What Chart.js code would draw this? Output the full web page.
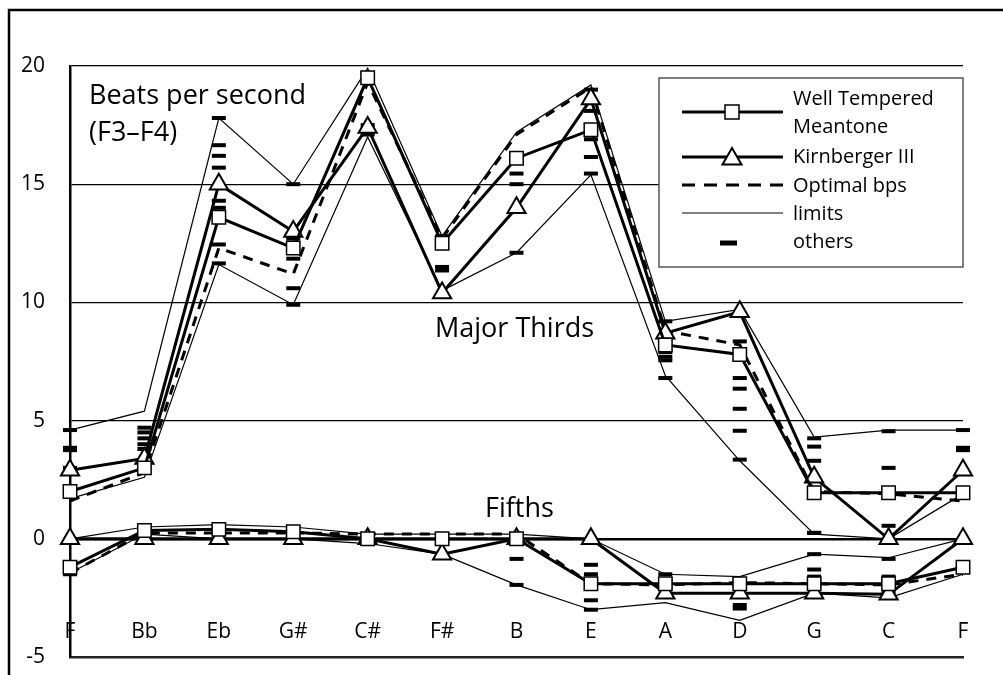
<!DOCTYPE html>
<html>
<head>
<meta charset="utf-8">
<script src="https://cdn.jsdelivr.net/npm/chart.js@4/dist/chart.umd.min.js"></script>
<style>
  html, body { margin: 0; padding: 0; background: #fff; overflow: hidden; }
  #wrap { width: 1003px; height: 675px; }
</style>
</head>
<body>
<div id="wrap"><canvas id="beats" width="1003" height="675"></canvas></div>
<script>
// notes of the circle of fifths (x positions 0..12)
const notes = ["F", "Bb", "Eb", "G#", "C#", "F#", "B", "E", "A", "D", "G", "C", "F"];

// beats per second, major thirds
const wtmThirds = [2.0, 3.0, 13.6, 12.3, 19.5, 12.5, 16.1, 17.3, 8.2, 7.8, 1.95, 1.95, 1.95];
const kirnThirds = [2.9, 3.4, 15.0, 13.0, 17.4, 10.4, 14.0, 18.6, 8.7, 9.6, 2.6, 0.0, 2.9];
const optThirds = [1.6, 2.8, 12.3, 11.2, 19.3, 12.7, 17.1, 19.1, 8.8, 8.2, 2.0, 1.9, 1.6];
const limitUpThirds = [4.6, 5.4, 17.8, 15.0, 19.9, 12.8, 17.2, 19.2, 9.2, 9.7, 4.3, 4.6, 4.6];
const limitLowThirds = [1.7, 2.6, 11.6, 9.9, 17.0, 10.5, 12.1, 15.4, 6.9, 3.3, 0.2, 0.0, 1.9];
const othersThirds = [
  [4.6, 3.85, 3.75, 3.0, 2.8],
  [4.7, 4.5, 4.25, 4.0, 3.8],
  [17.8, 16.65, 16.2, 15.7, 14.3, 14.0, 12.45, 11.65],
  [15.0, 12.7, 11.85, 10.6, 9.9],
  [19.7, 17.5, 17.3, 17.1],
  [12.8, 11.5, 11.35],
  [16.3, 15.45, 15.0, 12.1],
  [19.0, 18.1, 16.9, 16.15, 15.45],
  [9.2, 7.9, 7.7, 7.55, 6.8],
  [8.35, 6.8, 6.35, 5.5, 4.57, 3.35],
  [4.25, 3.9, 3.3, 2.1, 1.8, 0.25],
  [4.55, 3.0, 0.55],
  [4.6, 3.85, 3.75]
];

// beats per second, fifths
const wtmFifths = [-1.2, 0.35, 0.4, 0.3, 0.0, 0.0, 0.0, -1.9, -1.9, -1.9, -1.9, -1.9, -1.2];
const kirnFifths = [0, 0, 0, 0, 0, -0.65, 0, 0, -2.3, -2.3, -2.3, -2.35, 0];
const optFifths = [-1.45, 0.25, 0.25, 0.25, 0.2, 0.2, 0.2, -1.9, -1.95, -1.85, -1.9, -1.95, -1.5];
const limitUpFifths = [0, 0.5, 0.6, 0.5, 0.2, 0.2, 0.2, 0, -1.5, -1.6, -0.65, -0.8, 0];
const limitLowFifths = [-1.45, 0.2, 0, 0, -0.2, -0.65, -1.95, -3.0, -2.7, -3.45, -2.3, -2.5, -1.5];
const othersFifths = [
  [-1.0, -1.3, -1.5],
  [0.45, 0.35, 0.3],
  [0.5, 0.3],
  [0.45, 0.3, 0.2],
  [0.1, -0.1, -0.2],
  [0.1, -0.1],
  [-0.85, -1.95],
  [-1.1, -1.5, -2.6, -3.0],
  [-1.5, -1.7, -1.9, -2.05],
  [-1.7, -2.0, -2.8, -2.95],
  [0.25, -0.65, -1.3, -1.6, -1.75, -2.0],
  [-0.85, -1.6, -1.8, -2.0, -2.3],
  [-1.0, -1.2, -1.35]
];

// y axis ticks
const yTicks = [-5, 0, 5, 10, 15, 20];

const FONT = "'Open Sans', sans-serif";

// helpers to turn arrays into {x, y} points
const toPoints = (arr) => arr.map((v, i) => ({ x: i, y: v }));
const toCloud = (lists) => {
  const pts = [];
  lists.forEach((list, i) => list.forEach((v) => pts.push({ x: i, y: v })));
  return pts;
};

const wtmStyle = {
  borderColor: "#000", borderWidth: 3, tension: 0, clip: false,
  pointStyle: "rect", pointRadius: 9.5, pointBackgroundColor: "#fff",
  pointBorderColor: "#000", pointBorderWidth: 1.5
};
const kirnStyle = {
  borderColor: "#000", borderWidth: 3, tension: 0, clip: false,
  pointStyle: "triangle", pointRadius: 10.5, pointBackgroundColor: "#fff",
  pointBorderColor: "#000", pointBorderWidth: 2
};
const optStyle = {
  borderColor: "#000", borderWidth: 3, borderDash: [10, 8], tension: 0, pointRadius: 0, clip: false
};
const limitStyle = {
  borderColor: "#000", borderWidth: 1.2, tension: 0, pointRadius: 0, clip: false
};
const othersStyle = {
  showLine: false, pointStyle: "line", pointRadius: 7, pointBorderWidth: 4,
  pointBorderColor: "#000", borderColor: "#000", clip: false
};

// first dataset is drawn on top
const datasets = [
  { label: "Well Tempered Meantone", data: toPoints(wtmThirds), ...wtmStyle },
  { label: "wtm fifths", data: toPoints(wtmFifths), ...wtmStyle },
  { label: "Kirnberger III", data: toPoints(kirnThirds), ...kirnStyle },
  { label: "kirn fifths", data: toPoints(kirnFifths), ...kirnStyle },
  { label: "Optimal bps", data: toPoints(optThirds), ...optStyle },
  { label: "opt fifths", data: toPoints(optFifths), ...optStyle },
  { label: "others", data: toCloud(othersThirds), ...othersStyle },
  { label: "others fifths", data: toCloud(othersFifths), ...othersStyle },
  { label: "limits", data: toPoints(limitUpThirds), ...limitStyle },
  { label: "limits low", data: toPoints(limitLowThirds), ...limitStyle },
  { label: "limits fifths", data: toPoints(limitUpFifths), ...limitStyle },
  { label: "limits fifths low", data: toPoints(limitLowFifths), ...limitStyle }
];

// outer frame, category labels, captions and the legend box
const decorations = {
  id: "decorations",
  beforeDraw(chart) {
    const ctx = chart.ctx;
    ctx.save();
    ctx.strokeStyle = "#000";
    ctx.lineWidth = 2.5;
    ctx.beginPath();
    ctx.moveTo(9, 680);
    ctx.lineTo(9, 10);
    ctx.lineTo(1010, 10);
    ctx.stroke();
    ctx.restore();
  },
  afterDraw(chart) {
    const ctx = chart.ctx;
    const xs = chart.scales.x;
    const area = chart.chartArea;
    ctx.save();
    ctx.fillStyle = "#000";
    ctx.textBaseline = "alphabetic";

    // category labels sit inside the plot, above the bottom axis
    ctx.font = "21px " + FONT;
    ctx.textAlign = "center";
    notes.forEach((n, i) => ctx.fillText(n, xs.getPixelForValue(i), area.bottom - 19));

    // captions
    ctx.textAlign = "left";
    ctx.font = "27px " + FONT;
    ctx.fillText("Beats per second", area.left + 19, 104);
    ctx.fillText("(F3\u2013F4)", area.left + 19, 141);
    ctx.fillText("Major Thirds", 435, 337);
    ctx.fillText("Fifths", 485, 517);

    // legend box
    const bx = 659, by = 78, bw = 304, bh = 189;
    ctx.fillStyle = "#fff";
    ctx.fillRect(bx, by, bw, bh);
    ctx.strokeStyle = "#555";
    ctx.lineWidth = 1.5;
    ctx.strokeRect(bx, by, bw, bh);

    const x0 = 682, x1 = 783, xm = 732;
    ctx.strokeStyle = "#000";

    // well tempered meantone
    ctx.lineWidth = 3;
    ctx.beginPath(); ctx.moveTo(x0, 112); ctx.lineTo(x1, 112); ctx.stroke();
    ctx.fillStyle = "#fff";
    ctx.lineWidth = 1.5;
    ctx.fillRect(xm - 7, 105, 14, 14);
    ctx.strokeRect(xm - 7, 105, 14, 14);

    // kirnberger
    ctx.lineWidth = 3;
    ctx.beginPath(); ctx.moveTo(x0, 157); ctx.lineTo(x1, 157); ctx.stroke();
    ctx.lineWidth = 2;
    ctx.beginPath();
    ctx.moveTo(xm, 148); ctx.lineTo(xm + 9.5, 164.5); ctx.lineTo(xm - 9.5, 164.5); ctx.closePath();
    ctx.fill(); ctx.stroke();

    // optimal
    ctx.lineWidth = 3;
    ctx.setLineDash([13, 9]);
    ctx.beginPath(); ctx.moveTo(x0, 185); ctx.lineTo(x1 + 4, 185); ctx.stroke();
    ctx.setLineDash([]);

    // limits
    ctx.lineWidth = 1.2;
    ctx.beginPath(); ctx.moveTo(x0, 213); ctx.lineTo(x1, 213); ctx.stroke();

    // others
    ctx.lineWidth = 5;
    ctx.beginPath(); ctx.moveTo(720, 243); ctx.lineTo(737, 243); ctx.stroke();

    ctx.fillStyle = "#000";
    ctx.font = "20px " + FONT;
    ctx.fillText("Well Tempered", 793, 105);
    ctx.fillText("Meantone", 793, 133);
    ctx.fillText("Kirnberger III", 793, 163);
    ctx.fillText("Optimal bps", 793, 192);
    ctx.fillText("limits", 793, 220);
    ctx.fillText("others", 793, 248);
    ctx.restore();
  }
};

const beatsChart = new Chart(document.getElementById("beats").getContext("2d"), {
  type: "line",
  data: { datasets: datasets },
  plugins: [decorations],
  options: {
    responsive: false,
    animation: false,
    events: [],
    layout: { padding: { left: 0, top: 66, right: 40, bottom: 18 } },
    plugins: { legend: { display: false }, tooltip: { enabled: false } },
    scales: {
      x: {
        type: "linear",
        min: 0,
        max: notes.length - 1,
        afterFit(scale) { scale.height = 0; },
        ticks: { display: false },
        grid: { display: false, drawTicks: false },
        border: { display: true, color: "#222", width: 2.5 }
      },
      y: {
        min: yTicks[0],
        max: yTicks[yTicks.length - 1],
        afterFit(scale) {
          scale.width = 70;
          scale.paddingTop = 0;
          scale.paddingBottom = 0;
        },
        afterBuildTicks(scale) { scale.ticks = yTicks.map((v) => ({ value: v })); },
        ticks: {
          padding: 25,
          color: "#000",
          font: { family: FONT, size: 21 }
        },
        grid: {
          drawTicks: false,
          color: (c) => (c.tick && c.tick.value === -5 ? "#222" : "#000"),
          lineWidth: (c) => (c.tick && c.tick.value === 0 ? 2.5 : 1.2)
        },
        border: { display: true, color: "#000", width: 2.5 }
      }
    }
  }
});
</script>
</body>
</html>
